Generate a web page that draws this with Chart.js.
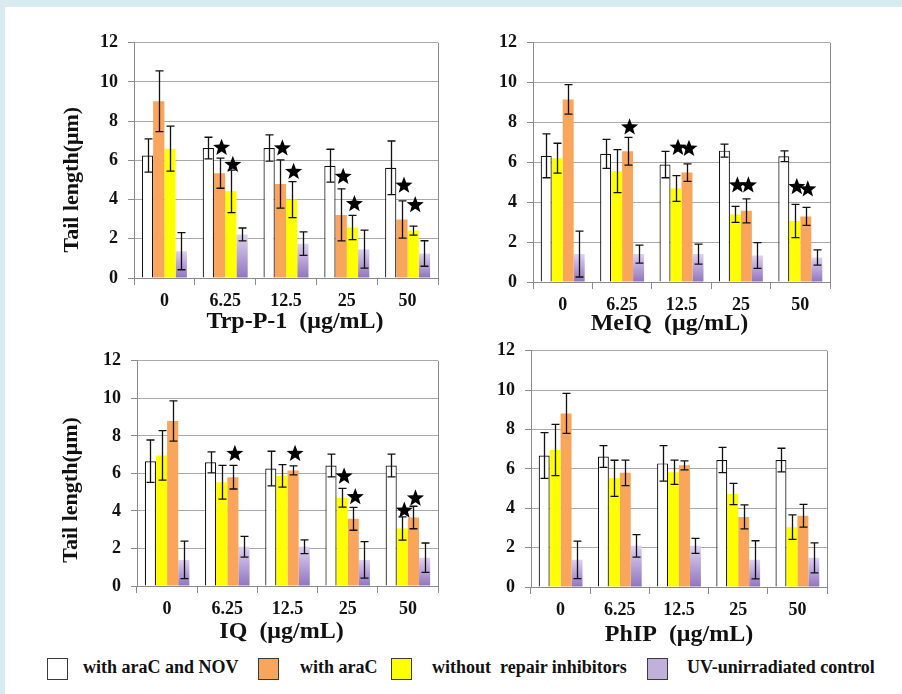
<!DOCTYPE html>
<html>
<head>
<meta charset="utf-8">
<script src="https://cdn.jsdelivr.net/npm/chart.js@4.4.1/dist/chart.umd.min.js"></script>
<style>
  html, body { margin: 0; padding: 0; }
  body { width: 902px; height: 694px; background: #d7ebf1; position: relative; overflow: hidden;
         font-family: 'Liberation Serif', 'Times New Roman', serif; }
  #sheet { position: absolute; left: 5px; top: 7px; right: 0; bottom: 0; background: #fff; }
  canvas { position: absolute; }
  .key { position: absolute; top: 658px; width: 19px; height: 20px; border: 1.5px solid #3a3a3a; }
  .lbl { position: absolute; top: 657px; font-weight: bold; font-size: 18px; white-space: pre; color: #111; }
</style>
</head>
<body>
<div id="sheet"></div>
<canvas id="trp" width="420" height="318" style="left:40px;top:22px"></canvas>
<canvas id="meiq" width="420" height="318" style="left:460px;top:22px"></canvas>
<canvas id="iq" width="420" height="312" style="left:40px;top:340px"></canvas>
<canvas id="phip" width="420" height="322" style="left:460px;top:330px"></canvas>

<div class="key" style="left:47px;background:#fff"></div>
<div class="lbl" style="left:83px">with araC and NOV</div>
<div class="key" style="left:258px;background:#f9a55b"></div>
<div class="lbl" style="left:300px">with araC</div>
<div class="key" style="left:391px;background:#ffff00"></div>
<div class="lbl" style="left:432px">without  repair inhibitors</div>
<div class="key" style="left:647px;background:#c2b0dc"></div>
<div class="lbl" style="left:687px">UV-unirradiated control</div>

<script>
const doses = ['0', '6.25', '12.5', '25', '50'];
const yTicks = [0, 2, 4, 6, 8, 10, 12];
const seriesNames = { nov: 'with araC and NOV', arac: 'with araC', none: 'without  repair inhibitors', ctrl: 'UV-unirradiated control' };

// Trp-P-1
const trpNov = [6.25, 6.63, 6.63, 5.73, 5.62];
const trpNovErr = [0.85, 0.55, 0.67, 0.84, 1.37];
const trpAraC = [9.02, 5.35, 4.8, 3.22, 2.98];
const trpAraCErr = [1.55, 0.77, 1.23, 1.33, 0.95];
const trpNone = [6.6, 4.42, 4.0, 2.58, 2.42];
const trpNoneErr = [1.15, 1.08, 0.92, 0.62, 0.23];
const trpCtrl = [1.37, 2.22, 1.75, 1.47, 1.25];
const trpCtrlErr = [0.95, 0.33, 0.6, 0.97, 0.65];
const trpStarDose = [1, 1, 2, 2, 3, 3, 4, 4];
const trpStarSeries = ['arac', 'none', 'arac', 'none', 'arac', 'none', 'arac', 'none'];
const trpStarLevel = [6.65, 5.78, 6.62, 5.42, 5.17, 3.78, 4.72, 3.72];

// MeIQ
const meiqNov = [6.33, 6.43, 5.89, 6.59, 6.31];
const meiqNovErr = [1.1, 0.73, 0.66, 0.33, 0.27];
const meiqNone = [6.21, 5.56, 4.69, 3.39, 3.06];
const meiqNoneErr = [0.75, 1.08, 0.65, 0.4, 0.83];
const meiqAraC = [9.16, 6.56, 5.49, 3.57, 3.29];
const meiqAraCErr = [0.74, 0.7, 0.44, 0.6, 0.45];
const meiqCtrl = [1.4, 1.4, 1.4, 1.33, 1.23];
const meiqCtrlErr = [1.15, 0.45, 0.5, 0.65, 0.38];
const meiqStarDose = [1, 2, 2, 3, 3, 4, 4];
const meiqStarSeries = ['arac', 'none', 'arac', 'none', 'arac', 'none', 'arac'];
const meiqStarLevel = [7.76, 6.74, 6.69, 4.85, 4.85, 4.77, 4.65];

// IQ
const iqNov = [6.65, 6.59, 6.26, 6.42, 6.42];
const iqNovErr = [1.13, 0.56, 0.92, 0.61, 0.61];
const iqNone = [6.96, 5.53, 5.87, 4.7, 3.06];
const iqNoneErr = [1.32, 0.9, 0.6, 0.5, 0.62];
const iqAraC = [8.79, 5.8, 6.16, 3.58, 3.65];
const iqAraCErr = [1.07, 0.63, 0.24, 0.61, 0.6];
const iqCtrl = [1.39, 2.09, 2.09, 1.39, 1.51];
const iqCtrlErr = [1.0, 0.55, 0.37, 0.97, 0.78];
const iqStarDose = [1, 2, 3, 3, 4, 4];
const iqStarSeries = ['arac', 'arac', 'none', 'arac', 'none', 'arac'];
const iqStarLevel = [7.05, 7.05, 5.84, 4.74, 4.02, 4.67];

// PhIP
const phipNov = [6.68, 6.63, 6.28, 6.45, 6.45];
const phipNovErr = [1.16, 0.55, 0.9, 0.64, 0.6];
const phipNone = [6.96, 5.52, 5.83, 4.72, 3.04];
const phipNoneErr = [1.3, 0.92, 0.62, 0.54, 0.62];
const phipAraC = [8.82, 5.8, 6.18, 3.56, 3.62];
const phipAraCErr = [1.02, 0.65, 0.23, 0.61, 0.58];
const phipCtrl = [1.38, 2.09, 2.09, 1.38, 1.48];
const phipCtrlErr = [0.95, 0.57, 0.38, 0.97, 0.76];

const FONT = "'Liberation Serif', 'Times New Roman', serif";
Chart.defaults.font.family = FONT;

const barStyle = {
  nov: { backgroundColor: '#ffffff', borderColor: '#111', borderWidth: 1.2 },
  arac: { backgroundColor: '#f9a55b', borderWidth: 0 },
  none: { backgroundColor: '#ffff00', borderWidth: 0 },
  // function keeps the options per bar, so the gradient can be set on each one
  ctrl: { backgroundColor: () => '#c2b0dc', borderWidth: 0, fade: true }
};

function drawStar(ctx, cx, cy, r) {
  ctx.beginPath();
  for (let k = 0; k < 10; k++) {
    const rad = k % 2 ? r * 0.42 : r;
    const a = -Math.PI / 2 + k * Math.PI / 5;
    ctx.lineTo(cx + rad * Math.cos(a), cy + rad * Math.sin(a));
  }
  ctx.closePath();
  ctx.fill();
}

function overlay(order, starDose, starSeries, starLevel) {
  return {
    id: 'overlay',
    beforeDatasetsDraw(chart) {
      // purple control bars fade from light at the top to darker at the base
      const ctx = chart.ctx;
      chart.data.datasets.forEach((ds, i) => {
        if (!ds.fade) return;
        chart.getDatasetMeta(i).data.forEach(bar => {
          const g = ctx.createLinearGradient(0, bar.y, 0, bar.base);
          g.addColorStop(0, '#ddd1f3');
          g.addColorStop(1, '#9176be');
          bar.options.backgroundColor = g;
        });
      });
    },
    afterDatasetsDraw(chart) {
      const ctx = chart.ctx, y = chart.scales.y, area = chart.chartArea;
      ctx.save();
      // right frame line
      ctx.strokeStyle = '#8a8a8a';
      ctx.lineWidth = 1;
      ctx.beginPath();
      ctx.moveTo(Math.round(area.right) + 0.5, area.top);
      ctx.lineTo(Math.round(area.right) + 0.5, area.bottom);
      ctx.stroke();
      // error bars
      ctx.strokeStyle = '#111';
      ctx.lineWidth = 1.3;
      chart.data.datasets.forEach((ds, i) => {
        chart.getDatasetMeta(i).data.forEach((bar, j) => {
          const v = ds.data[j], e = ds.errors[j];
          const t = y.getPixelForValue(v + e), b = y.getPixelForValue(v - e);
          const x = Math.round(bar.x) + 0.5;
          ctx.beginPath();
          ctx.moveTo(x, t); ctx.lineTo(x, b);
          ctx.moveTo(x - 4, t); ctx.lineTo(x + 4, t);
          ctx.moveTo(x - 4, b); ctx.lineTo(x + 4, b);
          ctx.stroke();
        });
      });
      // significance stars
      ctx.fillStyle = '#000';
      starDose.forEach((d, k) => {
        const bar = chart.getDatasetMeta(order.indexOf(starSeries[k])).data[d];
        drawStar(ctx, bar.x + 2, y.getPixelForValue(starLevel[k]), 9);
      });
      ctx.restore();
    }
  };
}

function makePanel(id, g, order, vals, errs, stars, xTitle, yTitle) {
  const datasets = order.map(k => Object.assign({
    label: seriesNames[k], data: vals[k], errors: errs[k]
  }, barStyle[k]));
  new Chart(document.getElementById(id), {
    type: 'bar',
    data: { labels: doses, datasets },
    plugins: [overlay(order, stars[0], stars[1], stars[2])],
    options: {
      responsive: false,
      animation: false,
      layout: { padding: { top: g.padTop, right: g.padRight, left: 0, bottom: 0 } },
      datasets: { bar: { categoryPercentage: 0.74, barPercentage: 1.0 } },
      plugins: { legend: { display: false }, tooltip: { enabled: false } },
      scales: {
        x: {
          ticks: { color: '#111', font: { size: 18, weight: 'bold' }, padding: 6 },
          grid: { offset: true, drawOnChartArea: false, tickLength: 7, color: '#8a8a8a' },
          border: { color: '#8a8a8a' },
          title: { display: true, text: xTitle, color: '#111', font: { size: 24, weight: 'bold' },
                   padding: { top: 0, bottom: g.xTitlePad } },
          afterFit(s) { s.height = g.xHeight; }
        },
        y: {
          min: 0, max: 12,
          afterBuildTicks(s) { s.ticks = yTicks.map(v => ({ value: v })); },
          ticks: { color: '#111', font: { size: 18, weight: 'bold' }, padding: 10 },
          grid: { color: '#a9a9a9', tickLength: 6, tickColor: '#8a8a8a' },
          border: { color: '#8a8a8a' },
          title: { display: !!yTitle, text: yTitle, color: '#111', font: { size: 22, weight: 'bold' },
                   padding: { top: g.yTitlePad, bottom: 0 } },
          afterFit(s) { s.width = g.yWidth; }
        }
      }
    }
  });
}

makePanel('trp', { padTop: 16, padRight: 22, yWidth: 94, xHeight: 62, xTitlePad: 4, yTitlePad: 19 },
  ['nov', 'arac', 'none', 'ctrl'],
  { nov: trpNov, arac: trpAraC, none: trpNone, ctrl: trpCtrl },
  { nov: trpNovErr, arac: trpAraCErr, none: trpNoneErr, ctrl: trpCtrlErr },
  [trpStarDose, trpStarSeries, trpStarLevel],
  '   Trp-P-1  (μg/mL)', 'Tail length(μm)       ');

makePanel('meiq', { padTop: 16, padRight: 50, yWidth: 73, xHeight: 58, xTitlePad: 2, yTitlePad: 0 },
  ['nov', 'none', 'arac', 'ctrl'],
  { nov: meiqNov, arac: meiqAraC, none: meiqNone, ctrl: meiqCtrl },
  { nov: meiqNovErr, arac: meiqAraCErr, none: meiqNoneErr, ctrl: meiqCtrlErr },
  [meiqStarDose, meiqStarSeries, meiqStarLevel],
  'MeIQ  (μg/mL)    ', '');

makePanel('iq', { padTop: 10, padRight: 22, yWidth: 97, xHeight: 66, xTitlePad: 6, yTitlePad: 18 },
  ['nov', 'none', 'arac', 'ctrl'],
  { nov: iqNov, arac: iqAraC, none: iqNone, ctrl: iqCtrl },
  { nov: iqNovErr, arac: iqAraCErr, none: iqNoneErr, ctrl: iqCtrlErr },
  [iqStarDose, iqStarSeries, iqStarLevel],
  'IQ  (μg/mL)  ', 'Tail length(μm)      ');

makePanel('phip', { padTop: 16, padRight: 53, yWidth: 71, xHeight: 65, xTitlePad: 3, yTitlePad: 0 },
  ['nov', 'none', 'arac', 'ctrl'],
  { nov: phipNov, arac: phipAraC, none: phipNone, ctrl: phipCtrl },
  { nov: phipNovErr, arac: phipAraCErr, none: phipNoneErr, ctrl: phipCtrlErr },
  [[], [], []],
  'PhIP  (μg/mL)', '');
</script>
</body>
</html>
